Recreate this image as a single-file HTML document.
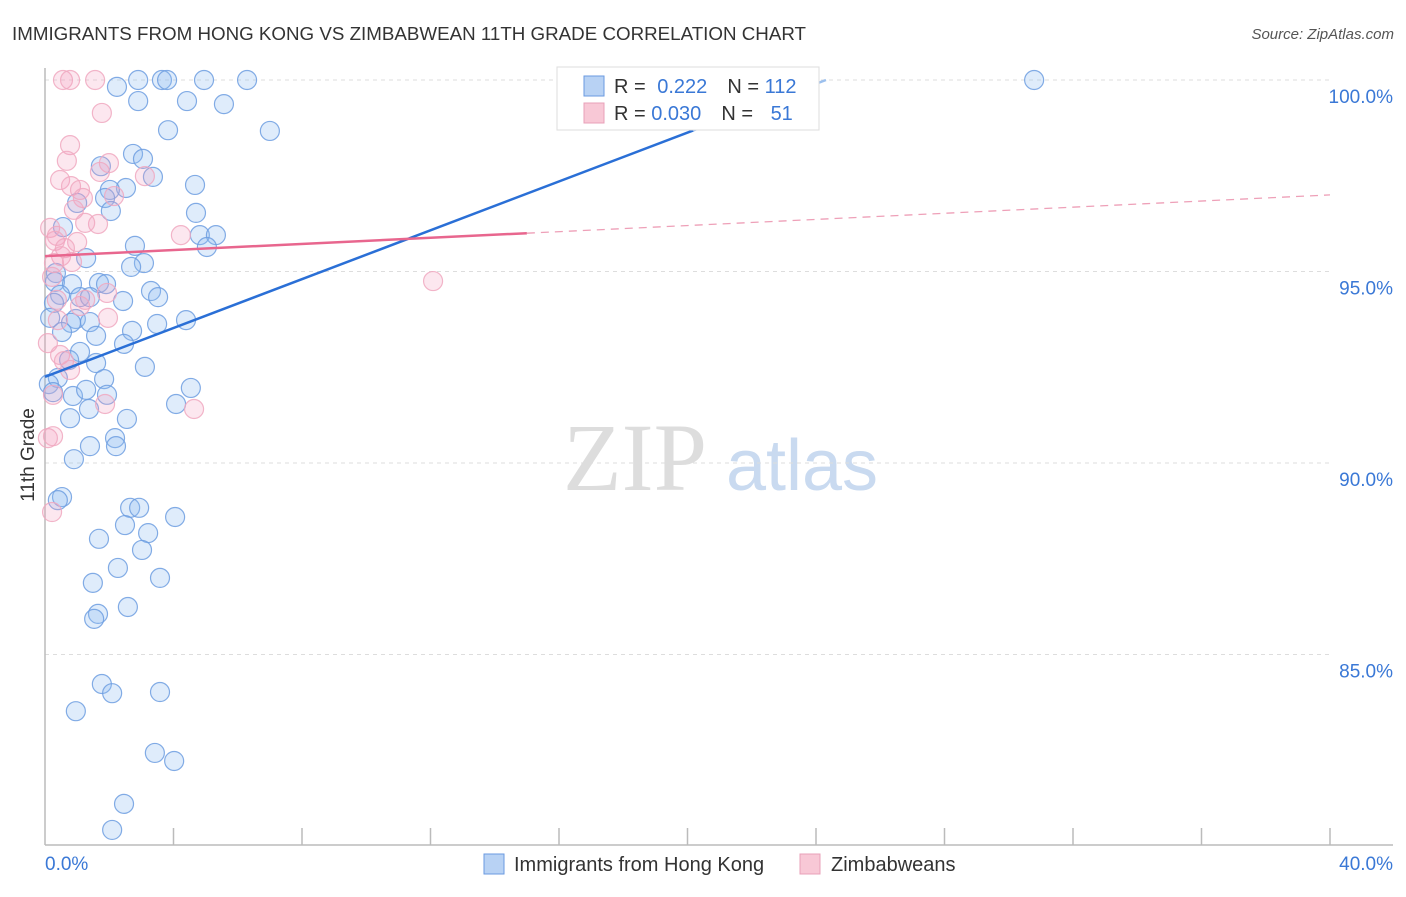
<!DOCTYPE html>
<html><head><meta charset="utf-8"><style>
body{margin:0;background:#fff;font-family:"Liberation Sans",sans-serif}
</style></head><body>
<svg width="1406" height="892" xmlns="http://www.w3.org/2000/svg" font-family="Liberation Sans, sans-serif">
<text x="12" y="40" font-size="18" fill="#333" textLength="794" lengthAdjust="spacingAndGlyphs">IMMIGRANTS FROM HONG KONG VS ZIMBABWEAN 11TH GRADE CORRELATION CHART</text>
<text x="1394" y="39" font-size="15" fill="#555" font-style="italic" text-anchor="end">Source: ZipAtlas.com</text>
<g>
<text x="635" y="490" font-size="96" fill="#ddd" font-family="Liberation Serif, serif" text-anchor="middle">ZIP</text>
<text x="802" y="490" font-size="72" fill="#c9daf0" text-anchor="middle">atlas</text>
</g>
<g id="grid"></g>
<g id="axes"></g>
<g id="marks"></g>
<text x="34" y="455" font-size="19" fill="#333" text-anchor="middle" transform="rotate(-90 34 455)">11th Grade</text>
<g>
<rect x="557" y="67" width="262" height="63" fill="#fff" stroke="#ddd"/>
<rect x="584" y="76" width="20" height="20" fill="#b8d2f4" stroke="#6a9ae0"/>
<rect x="584" y="103" width="20" height="20" fill="#f8c8d6" stroke="#e8a0b8"/>
<text x="614" y="93" font-size="20" fill="#333">R = <tspan fill="#3a78d6" dx="6">0.222</tspan><tspan dx="20">N = </tspan><tspan fill="#3a78d6">112</tspan></text>
<text x="614" y="120" font-size="20" fill="#333">R = <tspan fill="#3a78d6">0.030</tspan><tspan dx="20">N = </tspan><tspan fill="#3a78d6" dx="12">51</tspan></text>
</g>
<g>
<rect x="484" y="854" width="20" height="20" fill="#b8d2f4" stroke="#6a9ae0"/>
<text x="514" y="871" font-size="20" fill="#333">Immigrants from Hong Kong</text>
<rect x="800" y="854" width="20" height="20" fill="#f8c8d6" stroke="#e8a0b8"/>
<text x="831" y="871" font-size="20" fill="#333">Zimbabweans</text>
</g>
</svg>
<script>
const yTicks=[100,95,90,85];
const yTickLabels=["100.0%","95.0%","90.0%","85.0%"];
const xTickLabels=["0.0%","40.0%"];
const blueX=[2.24,2.9,3.64,3.8,4.95,6.29,30.79,2.9,4.42,5.57,3.83,7.0,2.74,3.05,1.74,3.36,4.67,2.52,2.02,1.87,1.0,2.05,4.7,0.56,4.82,5.32,5.04,2.8,1.28,3.08,2.68,0.34,0.31,0.84,1.68,1.9,3.3,3.52,2.43,0.47,1.09,1.4,0.28,0.16,0.96,0.81,4.39,3.49,1.4,2.71,1.59,0.53,2.46,1.09,0.75,1.59,3.11,0.4,1.84,4.54,0.12,0.25,0.87,1.28,1.93,1.37,4.08,0.78,2.55,2.18,2.21,1.4,0.9,0.53,0.4,2.65,2.93,2.49,4.05,1.68,3.21,3.02,2.27,1.49,3.58,1.65,1.53,2.58,1.77,2.09,3.58,0.96,3.42,4.02,2.46,2.09];
const blueY=[99.82,100,100,100,100,100,100,99.45,99.45,99.37,98.69,98.67,98.07,97.94,97.75,97.47,97.26,97.18,97.13,96.92,96.79,96.58,96.53,96.16,95.95,95.95,95.64,95.67,95.35,95.22,95.12,94.96,94.73,94.67,94.7,94.67,94.49,94.33,94.23,94.39,94.33,94.33,94.18,93.79,93.76,93.66,93.73,93.63,93.68,93.45,93.32,93.42,93.11,92.9,92.69,92.61,92.51,92.22,92.19,91.96,92.06,91.85,91.75,91.91,91.78,91.41,91.54,91.17,91.15,90.65,90.44,90.44,90.1,89.11,89.03,88.83,88.83,88.38,88.59,88.02,88.17,87.73,87.26,86.87,87.0,86.06,85.93,86.24,84.23,83.99,84.02,83.52,82.43,82.22,81.1,80.42];
const pinkX=[0.56,0.78,1.56,1.77,0.78,0.68,1.99,1.71,0.47,0.81,1.09,1.18,2.15,0.9,3.11,1.65,0.16,1.25,4.23,0.37,0.31,1.0,0.62,0.5,0.28,0.84,12.08,0.22,1.93,1.09,1.96,0.4,0.09,0.47,0.59,1.87,4.64,0.25,0.09,0.25,0.22,1.25,0.37,0.78];
const pinkY=[100,100,100,99.14,98.3,97.89,97.83,97.6,97.39,97.23,97.13,96.92,96.97,96.61,97.49,96.24,96.14,96.27,95.95,95.93,95.8,95.77,95.61,95.4,95.22,95.25,94.75,94.86,94.44,94.1,93.79,93.73,93.13,92.82,92.66,91.54,91.41,91.78,90.65,90.7,88.72,94.26,94.26,92.43];
const blueTrend=[92.25,0.3188];
const pinkTrend=[95.4,0.04];
const NS="http://www.w3.org/2000/svg";
const X0=45,X1=1330,Y100=80,PXPER=38.3;
const sx=v=>X0+(v/40)*(X1-X0);
const sy=v=>Y100+(100-v)*PXPER;
function mk(tag,attrs,parent){const e=document.createElementNS(NS,tag);for(const k in attrs)e.setAttribute(k,attrs[k]);parent.appendChild(e);return e;}
const grid=document.getElementById('grid'),axes=document.getElementById('axes'),marks=document.getElementById('marks');
yTicks.forEach((t,i)=>{
 const l=mk('line',{x1:X0,x2:X1,y1:sy(t),y2:sy(t),stroke:'#ddd','stroke-dasharray':'4,4'},grid);
 
 
 const tx=mk('text',{x:1393,y:sy(t)+23,'font-size':19,fill:'#3a78d6','text-anchor':'end'},axes);
 tx.textContent=yTickLabels[i];
 
 
});
const ax=mk('line',{x1:X0,x2:X0,y1:68,y2:845,stroke:'#bbb','stroke-width':1.5},axes);


const bx=mk('line',{x1:X0,x2:1393,y1:845,y2:845,stroke:'#bbb','stroke-width':1.5},axes);


for(let i=1;i<=10;i++){const t=mk('line',{x1:sx(i*4),x2:sx(i*4),y1:828,y2:845,stroke:'#bbb','stroke-width':1.5},axes);
 
 }
const xl0=mk('text',{x:45,y:870,'font-size':19,fill:'#3a78d6'},axes);xl0.textContent=xTickLabels[0];


const xl1=mk('text',{x:1393,y:870,'font-size':19,fill:'#3a78d6','text-anchor':'end'},axes);xl1.textContent=xTickLabels[1];


blueX.forEach((x,i)=>{const c=mk('circle',{cx:sx(x),cy:sy(blueY[i]),r:9.5,fill:'rgba(140,185,240,0.28)',stroke:'#6d9de0','stroke-width':1.2,'stroke-opacity':0.85},marks);
 
 });
pinkX.forEach((x,i)=>{const c=mk('circle',{cx:sx(x),cy:sy(pinkY[i]),r:9.5,fill:'rgba(245,160,190,0.25)',stroke:'#f0a8c0','stroke-width':1.2,'stroke-opacity':0.85},marks);
 
 });
const bxEnd=(100-blueTrend[0])/blueTrend[1];
const bl=mk('line',{x1:sx(0),y1:sy(blueTrend[0]),x2:sx(bxEnd*0.83),y2:sy(blueTrend[0]+blueTrend[1]*bxEnd*0.83),stroke:'#2a6fd6','stroke-width':2.5},marks);


const bl2=mk('line',{x1:sx(bxEnd*0.83),y1:sy(blueTrend[0]+blueTrend[1]*bxEnd*0.83),x2:sx(bxEnd),y2:sy(100),stroke:'#9cc0ee','stroke-width':2.5},marks);


const pl=mk('line',{x1:sx(0),y1:sy(pinkTrend[0]),x2:sx(15),y2:sy(pinkTrend[0]+pinkTrend[1]*15),stroke:'#e8668e','stroke-width':2.5},marks);


const pl2=mk('line',{x1:sx(15),y1:sy(pinkTrend[0]+pinkTrend[1]*15),x2:sx(40),y2:sy(pinkTrend[0]+pinkTrend[1]*40),stroke:'#eea0b8','stroke-width':1.3,'stroke-dasharray':'8,6'},marks);


</script>
</body></html>
